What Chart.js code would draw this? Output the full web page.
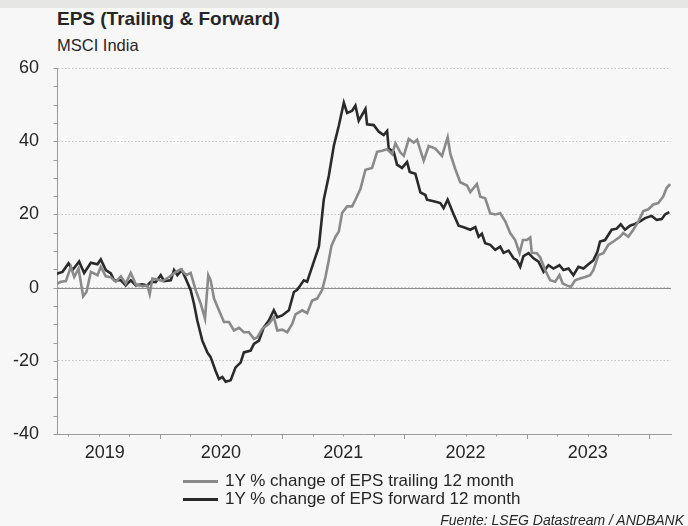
<!DOCTYPE html>
<html>
<head>
<meta charset="utf-8">
<script src="https://cdn.jsdelivr.net/npm/chart.js@4.4.0/dist/chart.umd.min.js"></script>
<style>
  html, body { margin: 0; padding: 0; }
  body { width: 688px; height: 526px; background: #f7f7f7; position: relative; overflow: hidden;
         font-family: "Liberation Sans", Arial, sans-serif; color: #262626; }
  #banda { position: absolute; left: 0; top: 0; width: 688px; height: 8px; background: #e6e6e4; }
  #titulo { position: absolute; left: 57px; top: 8px; font-size: 19px; line-height: 22px; font-weight: bold; }
  #subtitulo { position: absolute; left: 57px; top: 35px; font-size: 16.5px; line-height: 20px; }
  #grafico { position: absolute; left: 0; top: 0; }
  #leyenda { position: absolute; left: 183px; top: 472px; font-size: 17px; line-height: 18px; }
  .item { display: flex; align-items: center; height: 18px; }
  .muestra { width: 35px; height: 3px; margin-right: 7px; }
  #fuente { position: absolute; right: 4px; top: 512px; font-size: 14px; line-height: 16px; font-style: italic; }
</style>
</head>
<body>
<div id="banda"></div>
<div id="titulo">EPS (Trailing &amp; Forward)</div>
<div id="subtitulo">MSCI India</div>
<canvas id="grafico" width="688" height="526"></canvas>
<div id="leyenda"></div>
<div id="fuente">Fuente: LSEG Datastream / ANDBANK</div>
<script>
/**************************************
 * DATOS (fechas en años decimales)
 **************************************/
const trailingX = [
  2019.151, 2019.192, 2019.233, 2019.273, 2019.301, 2019.336, 2019.374, 2019.401, 2019.437, 2019.491,
  2019.518, 2019.559, 2019.600, 2019.641, 2019.682, 2019.722, 2019.763, 2019.804, 2019.858, 2019.899,
  2019.918, 2019.940, 2019.981, 2020.022, 2020.076, 2020.131, 2020.171, 2020.218, 2020.253, 2020.294,
  2020.335, 2020.370, 2020.397, 2020.416, 2020.444, 2020.484, 2020.525, 2020.566, 2020.607, 2020.648,
  2020.688, 2020.729, 2020.770, 2020.797, 2020.838, 2020.892, 2020.933, 2020.961, 2021.001, 2021.042,
  2021.083, 2021.110, 2021.165, 2021.205, 2021.246, 2021.287, 2021.328, 2021.355, 2021.382, 2021.404,
  2021.437, 2021.464, 2021.491, 2021.532, 2021.573, 2021.600, 2021.641, 2021.682, 2021.736, 2021.777,
  2021.818, 2021.859, 2021.900, 2021.927, 2021.968, 2021.995, 2022.036, 2022.076, 2022.104, 2022.158,
  2022.199, 2022.253, 2022.308, 2022.354, 2022.376, 2022.416, 2022.457, 2022.512, 2022.539, 2022.593,
  2022.621, 2022.661, 2022.702, 2022.743, 2022.784, 2022.825, 2022.865, 2022.906, 2022.942, 2022.969,
  2023.002, 2023.029, 2023.042, 2023.083, 2023.110, 2023.151, 2023.192, 2023.233, 2023.268, 2023.295,
  2023.328, 2023.361, 2023.396, 2023.437, 2023.478, 2023.519, 2023.546, 2023.587, 2023.627, 2023.668,
  2023.709, 2023.763, 2023.790, 2023.831, 2023.872, 2023.913, 2023.954, 2023.995, 2024.036, 2024.076,
  2024.117, 2024.144, 2024.172
];
const trailingY = [
  0.9, 1.6, 1.8, 5.7, 2.9, 5.2, -2.4, -1.2, 4.3, 3.4,
  5.7, 3.1, 2.8, 1.6, 3.1, 1.1, 4.0, 0.9, 0.4, 0.6,
  -1.8, 2.5, 2.2, 1.8, 2.9, 4.3, 5.0, 3.4, 4.0, -0.7,
  -4.4, -8.5, 3.4, 2.0, -3.0, -6.2, -9.4, -9.4, -11.7, -11.0,
  -12.2, -12.2, -14.0, -13.6, -11.3, -9.9, -8.1, -11.7, -11.5, -12.2,
  -9.9, -7.3, -6.2, -7.0, -3.5, -3.0, -0.6, 2.9, 7.5, 11.4,
  13.9, 15.3, 20.4, 22.2, 22.2, 24.0, 27.0, 32.2, 32.7, 37.1,
  37.4, 37.8, 36.5, 39.4, 36.9, 36.0, 40.6, 39.6, 40.4, 34.7,
  38.7, 38.0, 36.0, 41.1, 36.5, 32.4, 28.8, 27.9, 26.1, 28.3,
  24.8, 24.4, 20.3, 20.0, 20.3, 18.1, 14.9, 13.0, 9.4, 13.0,
  13.0, 13.7, 9.5, 9.4, 8.3, 4.8, 2.0, 1.6, 3.4, 1.1,
  0.6, 0.2, 2.0, 2.5, 2.9, 3.4, 4.8, 8.9, 9.4, 11.7,
  12.6, 13.9, 14.9, 13.9, 15.8, 18.1, 20.9, 21.4, 22.7, 23.1,
  24.9, 27.2, 28.3
];

const forwardX = [
  2019.151, 2019.205, 2019.254, 2019.287, 2019.341, 2019.382, 2019.437, 2019.491, 2019.518, 2019.559,
  2019.600, 2019.627, 2019.682, 2019.722, 2019.763, 2019.804, 2019.858, 2019.899, 2019.927, 2019.967,
  2020.008, 2020.035, 2020.090, 2020.117, 2020.144, 2020.180, 2020.212, 2020.253, 2020.280, 2020.307,
  2020.348, 2020.389, 2020.416, 2020.457, 2020.484, 2020.512, 2020.539, 2020.580, 2020.620, 2020.661,
  2020.688, 2020.743, 2020.770, 2020.811, 2020.852, 2020.892, 2020.933, 2020.961, 2021.001, 2021.056,
  2021.097, 2021.124, 2021.178, 2021.205, 2021.260, 2021.301, 2021.341, 2021.382, 2021.423, 2021.464,
  2021.505, 2021.532, 2021.573, 2021.600, 2021.627, 2021.682, 2021.695, 2021.750, 2021.791, 2021.831,
  2021.859, 2021.872, 2021.913, 2021.940, 2021.981, 2022.022, 2022.044, 2022.090, 2022.131, 2022.172,
  2022.185, 2022.240, 2022.294, 2022.321, 2022.354, 2022.403, 2022.444, 2022.485, 2022.539, 2022.580,
  2022.607, 2022.634, 2022.661, 2022.702, 2022.743, 2022.784, 2022.811, 2022.852, 2022.893, 2022.920,
  2022.947, 2022.974, 2023.015, 2023.056, 2023.097, 2023.138, 2023.178, 2023.219, 2023.268, 2023.301,
  2023.342, 2023.382, 2023.423, 2023.464, 2023.505, 2023.546, 2023.578, 2023.600, 2023.641, 2023.695,
  2023.736, 2023.769, 2023.804, 2023.845, 2023.886, 2023.927, 2023.968, 2024.022, 2024.063, 2024.104,
  2024.131, 2024.166
];
const forwardY = [
  3.7, 4.3, 6.6, 4.8, 7.1, 4.0, 6.8, 6.4, 7.7, 4.8,
  3.9, 2.0, 2.0, 0.6, 2.0, 0.6, 0.9, 0.6, 1.6, 1.5,
  3.4, 1.8, 2.0, 4.8, 3.4, 4.8, 2.5, -0.7, -4.4, -9.0,
  -14.5, -17.7, -19.0, -22.8, -25.0, -24.4, -25.7, -25.3, -21.8, -20.5,
  -17.7, -17.2, -15.4, -14.5, -10.8, -9.0, -6.2, -8.1, -7.6, -6.2,
  -1.2, -0.6, 2.0, 1.6, 7.1, 11.2, 24.0, 30.5, 38.7, 44.2,
  50.5, 47.7, 48.3, 49.7, 45.6, 48.8, 44.6, 44.4, 42.6, 41.7,
  42.8, 38.0, 37.1, 33.6, 32.7, 34.3, 31.6, 31.1, 26.0, 25.3,
  24.0, 23.6, 23.1, 21.7, 24.0, 20.0, 16.9, 16.5, 15.8, 16.5,
  13.9, 14.7, 12.1, 11.7, 10.3, 11.2, 9.5, 10.1, 8.0, 7.5,
  5.7, 8.6, 9.4, 8.0, 7.1, 4.3, 6.1, 5.2, 6.1, 4.8,
  5.2, 3.4, 5.7, 5.2, 6.4, 7.5, 9.8, 12.6, 13.0, 15.8,
  16.1, 17.3, 15.8, 16.9, 17.4, 18.1, 19.0, 19.6, 18.5, 18.7,
  20.0, 20.6
];

const etiquetasAnio = ["2019", "2020", "2021", "2022", "2023"];
const posicionEtiquetas = [2019.55, 2020.5, 2021.5, 2022.5, 2023.5];
const limitesX = [2019.16, 2024.18];
const limitesY = [-40, 60];

const series = [
  { label: "1Y % change of EPS trailing 12 month", x: trailingX, y: trailingY, color: "#8a8a8a" },
  { label: "1Y % change of EPS forward 12 month", x: forwardX, y: forwardY, color: "#2a2a2a" }
];

/**************************************
 * MARCAS DE LOS EJES Y LÍNEA DEL CERO
 **************************************/
const ejesPlugin = {
  id: "ejes",
  beforeDatasetsDraw(chart) {
    const { ctx, chartArea, scales } = chart;
    const y0 = Math.round(scales.y.getPixelForValue(0)) + 0.5;
    ctx.save();
    ctx.strokeStyle = "#8c8c8c";
    ctx.lineWidth = 1;
    ctx.beginPath();
    ctx.moveTo(chartArea.left, y0);
    ctx.lineTo(chartArea.right, y0);
    ctx.stroke();
    ctx.restore();
  },
  afterDraw(chart) {
    const { ctx, chartArea, scales } = chart;
    ctx.save();
    ctx.strokeStyle = "#9a9a9a";
    ctx.lineWidth = 1;
    ctx.beginPath();
    // marcas trimestrales / anuales en el eje X
    for (let q = Math.ceil(limitesX[0] * 4) / 4; q <= limitesX[1]; q += 0.25) {
      const px = Math.round(scales.x.getPixelForValue(q)) + 0.5;
      const largo = Number.isInteger(q) ? 5 : 2.5;
      ctx.moveTo(px, chartArea.bottom);
      ctx.lineTo(px, chartArea.bottom + largo);
    }
    // marcas cada 5 puntos en el eje Y
    for (let v = limitesY[0]; v <= limitesY[1]; v += 5) {
      const py = Math.round(scales.y.getPixelForValue(v)) + 0.5;
      ctx.moveTo(chartArea.left - 3.5, py);
      ctx.lineTo(chartArea.left, py);
    }
    ctx.stroke();
    ctx.restore();
  }
};

new Chart(document.getElementById("grafico"), {
  type: "line",
  data: {
    datasets: series.map(s => ({
      label: s.label,
      data: s.x.map((x, i) => ({ x: x, y: s.y[i] })),
      borderColor: s.color,
      borderWidth: 2.6,
      pointRadius: 0,
      tension: 0,
      fill: false
    }))
  },
  options: {
    responsive: false,
    animation: false,
    layout: { padding: { left: 0, right: 17, top: 68, bottom: 62 } },
    plugins: { legend: { display: false }, tooltip: { enabled: false } },
    scales: {
      x: {
        type: "linear",
        min: limitesX[0],
        max: limitesX[1],
        afterBuildTicks: scale => { scale.ticks = posicionEtiquetas.map(v => ({ value: v })); },
        afterFit: scale => { scale.height = 30; },
        ticks: {
          autoSkip: false,
          maxRotation: 0,
          padding: 8,
          color: "#262626",
          font: { family: "Liberation Sans", size: 18 },
          callback: (v, i) => etiquetasAnio[i]
        },
        grid: { display: false, drawTicks: false },
        border: { display: true, color: "#9a9a9a", width: 1 }
      },
      y: {
        min: limitesY[0],
        max: limitesY[1],
        afterFit: scale => { scale.width = 57; },
        ticks: {
          stepSize: 20,
          padding: 18,
          color: "#262626",
          font: { family: "Liberation Sans", size: 18 }
        },
        grid: { color: "#c4c4c4", lineWidth: 1, drawTicks: false },
        border: { display: true, color: "#9a9a9a", width: 1, dash: [1.5, 2] }
      }
    }
  },
  plugins: [ejesPlugin]
});

// leyenda en HTML
const leyenda = document.getElementById("leyenda");
series.forEach(s => {
  const item = document.createElement("div");
  item.className = "item";
  item.innerHTML = `<span class="muestra" style="background:${s.color}"></span><span>${s.label}</span>`;
  leyenda.appendChild(item);
});
</script>
</body>
</html>
